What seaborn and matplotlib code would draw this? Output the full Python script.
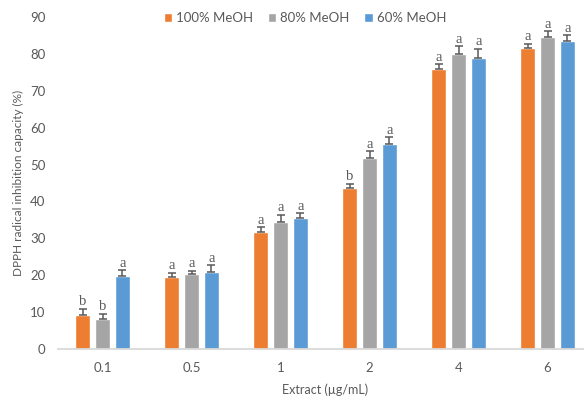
import numpy as np
import pandas as pd
import seaborn as sns
import matplotlib.pyplot as plt
from matplotlib.patches import Patch

# Extract concentrations (µg/mL) and solvent systems
concentrations = ["0.1", "0.5", "1", "2", "4", "6"]
solvents = ["100% MeOH", "80% MeOH", "60% MeOH"]

# Mean DPPH radical inhibition (%) per solvent
meoh100 = [9.3, 19.5, 31.8, 43.6, 75.9, 81.7]
meoh80 = [8.1, 20.3, 34.4, 51.9, 80.1, 84.6]
meoh60 = [19.8, 20.9, 35.4, 55.7, 79.0, 83.6]

# Standard deviations
err100 = [1.6, 1.2, 1.2, 1.2, 1.3, 1.1]
err80 = [1.5, 0.9, 2.0, 1.8, 2.0, 1.6]
err60 = [1.5, 1.8, 1.4, 1.8, 2.4, 1.4]

# Significance letters
letters100 = ["b", "a", "a", "b", "a", "a"]
letters80 = ["b", "a", "a", "a", "a", "a"]
letters60 = ["a", "a", "a", "a", "a", "a"]

colors = ["#ED7D31", "#A5A5A5", "#5B9BD5"]
text_color = "#595959"

means = [meoh100, meoh80, meoh60]
errs = [err100, err80, err60]
letters = [letters100, letters80, letters60]

df = pd.DataFrame({
    "Extract": np.tile(concentrations, len(solvents)),
    "Solvent": np.repeat(solvents, len(concentrations)),
    "Inhibition": np.concatenate(means),
})

sns.set_style("white")
plt.rcParams["font.family"] = ["Lato", "DejaVu Sans"]

fig = plt.figure(figsize=(5.84, 3.99), dpi=100)
ax = fig.add_axes([58 / 584, 50 / 399, 534 / 584, 332 / 399])

sns.barplot(data=df, x="Extract", y="Inhibition", hue="Solvent",
            order=concentrations, hue_order=solvents, palette=colors,
            width=0.667, gap=0.22, errorbar=None, legend=False,
            saturation=1, ax=ax)

# Upward-only error bars and significance letters
for container, m, e, lab in zip(ax.containers, means, errs, letters):
    xs = [b.get_x() + b.get_width() / 2 for b in container]
    ax.errorbar(xs, m, yerr=[np.zeros(len(e)), e], fmt="none",
                ecolor=text_color, elinewidth=1.1, capsize=2.6, capthick=1.1)
    for x, v, ev, t in zip(xs, m, e, lab):
        ax.text(x, v + ev + 0.9, t, ha="center", va="baseline",
                fontsize=10.5, color=text_color, family="Liberation Serif")

ax.set_xlim(-0.5, 5.5)
ax.set_ylim(0, 90)
ax.set_yticks(range(0, 91, 10))
ax.set_xlabel("")
ax.set_ylabel("")

for side in ["left", "right", "top"]:
    ax.spines[side].set_visible(False)
ax.spines["bottom"].set_color("#D9D9D9")
ax.spines["bottom"].set_linewidth(1.3)

ax.tick_params(axis="y", length=0, pad=9, labelsize=9.5, labelcolor=text_color)
ax.tick_params(axis="x", length=0, pad=9, labelsize=9.5, labelcolor=text_color)

fig.text(18 / 584, 1 - 183 / 399, "DPPH radical inhibition capacity (%)",
         rotation=90, ha="center", va="center", fontsize=8.5, color=text_color)
fig.text(325 / 584, 1 - 390 / 399, "Extract (µg/mL)",
         ha="center", va="center", fontsize=9, color=text_color)

handles = [Patch(facecolor=c, label=s) for c, s in zip(colors, solvents)]
fig.legend(handles=handles, ncol=3, loc="center",
           bbox_to_anchor=(305 / 584, 1 - 18 / 399), frameon=False,
           handlelength=0.65, handleheight=0.65, handletextpad=0.3,
           columnspacing=1.1, fontsize=9.5, labelcolor=text_color)

fig.savefig("out.png", dpi=100)
